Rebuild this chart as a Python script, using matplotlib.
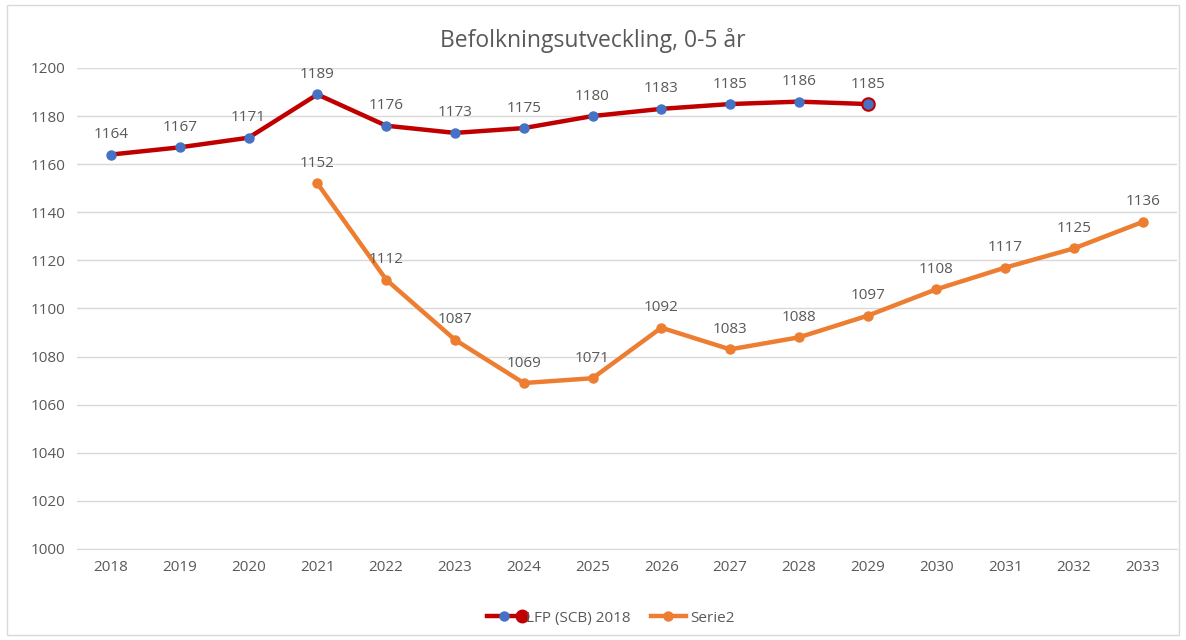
import matplotlib
matplotlib.use('Agg')
import matplotlib.pyplot as plt
from matplotlib.lines import Line2D
from matplotlib.patches import Rectangle
from matplotlib.legend_handler import HandlerBase

years = list(range(2018, 2034))
lfp_years = list(range(2018, 2030))
lfp = [1164, 1167, 1171, 1189, 1176, 1173, 1175, 1180, 1183, 1185, 1186, 1185]
serie2_years = list(range(2021, 2034))
serie2 = [1152, 1112, 1087, 1069, 1071, 1092, 1083, 1088, 1097, 1108, 1117, 1125, 1136]

RED = '#C00000'
BLUE = '#4472C4'
ORANGE = '#ED7D31'
GRAY = '#595959'

plt.rcParams['font.family'] = ['Open Sans', 'DejaVu Sans']


class LfpHandler(HandlerBase):
    # excel-style legend key: red line, blue dot, red end dot
    def create_artists(self, legend, orig_handle, xdescent, ydescent,
                       width, height, fontsize, trans):
        y = height / 2 - ydescent
        line = Line2D([-xdescent, width - xdescent], [y, y], color=RED, lw=3.2)
        blue = Line2D([width * 0.5 - xdescent], [y], ls='none', marker='o',
                      ms=6.5, mfc=BLUE, mec=BLUE)
        red = Line2D([width - xdescent], [y], ls='none', marker='o',
                     ms=9, mfc=RED, mec=RED)
        for a in (line, blue, red):
            a.set_transform(trans)
        return [line, blue, red]


fig = plt.figure(figsize=(11.86, 6.4), dpi=100)
ax = fig.add_axes([0.0646, 0.1422, 0.928, 0.7516])

fig.patches.append(Rectangle((0.006, 0.008), 0.988, 0.984, transform=fig.transFigure,
                             fill=False, edgecolor='#D9D9D9', linewidth=1))

xs1 = [years.index(y) for y in lfp_years]
xs2 = [years.index(y) for y in serie2_years]

ax.plot(xs1, lfp, color=RED, linewidth=3.2, marker='o', markersize=6.5,
        markerfacecolor=BLUE, markeredgecolor=BLUE, zorder=3)
ax.plot(xs1[-1:], lfp[-1:], linestyle='none', marker='o', markersize=9,
        markerfacecolor=BLUE, markeredgecolor=RED, markeredgewidth=1.5, zorder=4)
ax.plot(xs2, serie2, color=ORANGE, linewidth=3.2, marker='o', markersize=6.5,
        markerfacecolor=ORANGE, markeredgecolor=ORANGE, zorder=3)

for x, v in zip(xs1, lfp):
    ax.annotate(str(v), (x, v), textcoords='offset points', xytext=(0, 9),
                ha='center', va='bottom', fontsize=11, color=GRAY)
for x, v in zip(xs2, serie2):
    ax.annotate(str(v), (x, v), textcoords='offset points', xytext=(0, 9),
                ha='center', va='bottom', fontsize=11, color=GRAY)

ax.set_xlim(-0.5, len(years) - 0.5)
ax.set_ylim(1000, 1200)
ax.set_yticks(range(1000, 1201, 20))
ax.set_xticks(range(len(years)))
ax.set_xticklabels([str(y) for y in years])
ax.tick_params(axis='both', length=0, labelsize=11, labelcolor=GRAY, pad=8)
ax.grid(axis='y', color='#D9D9D9', linewidth=1)
ax.set_axisbelow(True)
for s in ['top', 'right', 'left']:
    ax.spines[s].set_visible(False)
ax.spines['bottom'].set_color('#D9D9D9')

fig.text(0.5, 0.937, 'Befolkningsutveckling, 0-5 år', ha='center', va='center',
         fontsize=16.5, color=GRAY)

lfp_key = Line2D([], [], color=RED)
serie_key = Line2D([], [], color=ORANGE, linewidth=3.2, marker='o', markersize=6.5,
                   markerfacecolor=ORANGE, markeredgecolor=ORANGE)
fig.legend([lfp_key, serie_key], ['LFP (SCB) 2018', 'Serie2'], loc='center',
           bbox_to_anchor=(0.515, 0.034), ncol=2, frameon=False, fontsize=11,
           labelcolor=GRAY, handlelength=2.3, handletextpad=0.3, columnspacing=1.3,
           handler_map={lfp_key: LfpHandler()})

fig.savefig('out.png', dpi=100)
